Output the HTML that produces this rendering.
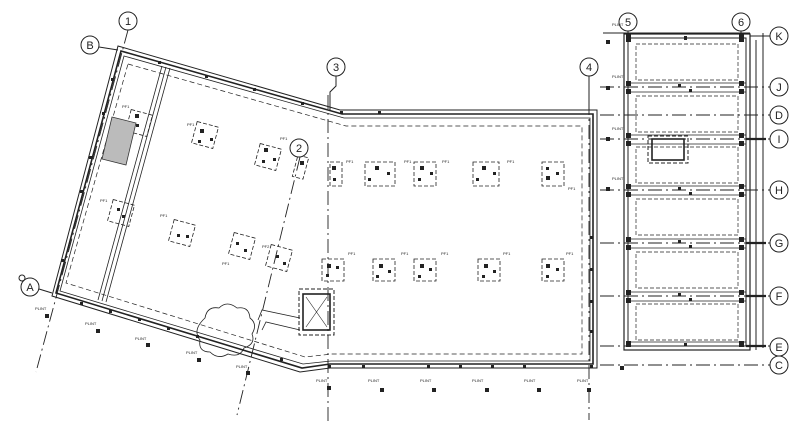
<!DOCTYPE html>
<html><head><meta charset="utf-8"><style>
html,body{margin:0;padding:0;background:#fff;}
svg{display:block;}
text{font-family:"Liberation Sans",sans-serif;fill:#222;}
</style></head><body>
<svg width="800" height="432" viewBox="0 0 800 432" xmlns="http://www.w3.org/2000/svg">
<g fill="none" stroke="#222" stroke-width="1">
<!-- grid axes -->
<g stroke-dasharray="14,4,2,4" stroke-width="0.9">
<line x1="128" y1="30" x2="36" y2="372"/>
<line x1="300" y1="157" x2="237" y2="415"/>
<line x1="328" y1="95" x2="328" y2="425"/>
<line x1="589" y1="77" x2="589" y2="420"/>
<line x1="600" y1="87" x2="770" y2="87"/>
<line x1="600" y1="115" x2="770" y2="115"/>
<line x1="600" y1="139" x2="770" y2="139"/>
<line x1="600" y1="190" x2="770" y2="190"/>
<line x1="600" y1="243" x2="770" y2="243"/>
<line x1="600" y1="296" x2="770" y2="296"/>
<line x1="600" y1="346" x2="770" y2="346"/>
<line x1="600" y1="365" x2="770" y2="365"/>
</g>
<line x1="99" y1="47" x2="118" y2="50"/>
<line x1="39" y1="289" x2="52" y2="293"/>
<path d="M336 76 V86 L330 92 V110"/>
<line x1="589" y1="76" x2="589" y2="110"/>
<line x1="628" y1="31" x2="628" y2="38"/>
<line x1="741" y1="31" x2="741" y2="38"/>
<line x1="750" y1="36" x2="770" y2="36"/>
<line x1="603" y1="33" x2="750" y2="33"/>
<!-- main building walls -->
<path d="M118 46 L340 110 H597 V368 H330 L300 372 L52 296 Z" stroke-width="1"/>
<path d="M121 51 L342 114 H593 V364 H330 L302 368 L56 293 Z" stroke-width="1.6"/>
<path d="M124 56 L344 118 H590 V361 H331 L303 364 L60 291 Z" stroke-width="0.8"/>
<path d="M128 64 L346 126 H582 V354 H332 L305 357 L66 283 Z" stroke-dasharray="5,3" stroke-width="0.7"/>
<!-- inner partition -->
<path d="M162 66 L98 300 M166 67 L102 301 M170 68 L106 302" stroke-width="0.8"/>
<!-- pads -->
<g stroke-dasharray="4,2" stroke-width="0.8">
<rect x="128" y="112" width="22" height="22" transform="rotate(15 139 123)"/>
<rect x="194" y="124" width="22" height="22" transform="rotate(15 205 135)"/>
<rect x="257" y="146" width="22" height="22" transform="rotate(15 268 157)"/>
<rect x="295" y="156" width="11" height="22" transform="rotate(15 300 167)"/>
<rect x="110" y="202" width="22" height="22" transform="rotate(15 121 213)"/>
<rect x="171" y="222" width="22" height="22" transform="rotate(15 182 233)"/>
<rect x="231" y="235" width="22" height="22" transform="rotate(15 242 246)"/>
<rect x="268" y="247" width="22" height="22" transform="rotate(15 279 258)"/>
<rect x="330" y="162" width="12" height="24"/>
<rect x="365" y="162" width="30" height="24"/>
<rect x="414" y="162" width="22" height="24"/>
<rect x="473" y="162" width="26" height="24"/>
<rect x="542" y="162" width="22" height="24"/>
<rect x="322" y="259" width="22" height="22"/>
<rect x="373" y="259" width="22" height="22"/>
<rect x="414" y="259" width="22" height="22"/>
<rect x="478" y="259" width="22" height="22"/>
<rect x="542" y="259" width="22" height="22"/>
</g>
<!-- elevator -->
<rect x="299" y="289" width="35" height="46" stroke-dasharray="4,2"/>
<rect x="303" y="294" width="27" height="36" stroke-width="1.6"/>
<path d="M306 297 L327 327 M327 297 L306 327" stroke-width="0.6"/>
<path d="M258 320 L262 310 L300 318 M262 330 L266 322 L300 330" stroke-width="0.8"/>
<!-- cloud -->
<path d="M205 318 q2 -12 14 -10 q8 -8 18 0 q12 -2 13 10 q8 6 2 16 q4 10 -8 14 q-4 10 -16 6 q-10 6 -18 -2 q-12 0 -10 -12 q-8 -10 5 -22 z" stroke-width="0.8"/>
<!-- right building -->
<rect x="624" y="34" width="126" height="316" stroke-width="1.2"/>
<rect x="628" y="38" width="118" height="308"/>
<line x1="756" y1="40" x2="756" y2="350"/>
<line x1="763" y1="33" x2="763" y2="348"/>
<g stroke-dasharray="4,2" stroke-width="0.7">
<rect x="636" y="44" width="102" height="36"/>
<rect x="636" y="96" width="102" height="36"/>
<rect x="636" y="147" width="102" height="36"/>
<rect x="636" y="199" width="102" height="36"/>
<rect x="636" y="252" width="102" height="36"/>
<rect x="636" y="304" width="102" height="36"/>
</g>
<g stroke-width="0.8">
<path d="M628 83 H746 M628 92 H746 M628 135 H746 M628 144 H746 M628 186 H746 M628 195 H746 M628 239 H746 M628 248 H746 M628 292 H746 M628 301 H746 M628 342 H746"/>
</g>
<rect x="648" y="136" width="40" height="27" stroke-dasharray="4,2"/>
<rect x="652" y="139" width="32" height="21" stroke-width="1.6"/>
<path d="M746 243 H766 M746 296 H766 M746 346 H766 M746 139 H766" stroke-width="2.2"/>
<!-- bubbles -->
<g fill="#fff">
<circle cx="128" cy="21" r="9"/><circle cx="299" cy="148" r="9"/><circle cx="336" cy="67" r="9"/><circle cx="589" cy="67" r="9"/>
<circle cx="628" cy="22" r="9"/><circle cx="741" cy="22" r="9"/><circle cx="30" cy="287" r="9"/><circle cx="90" cy="45" r="9"/>
<circle cx="779" cy="36" r="9"/><circle cx="779" cy="87" r="9"/><circle cx="779" cy="115" r="9"/><circle cx="779" cy="139" r="9"/>
<circle cx="779" cy="190" r="9"/><circle cx="779" cy="243" r="9"/><circle cx="779" cy="296" r="9"/><circle cx="779" cy="347" r="9"/><circle cx="779" cy="365" r="9"/>
<circle cx="22" cy="278" r="3"/>
</g>
</g>
<polygon points="112,117 136,123 126,165 102,159" fill="#bbb" stroke="#333" stroke-width="0.8"/>
<!-- columns / anchor dots -->
<g fill="#222">
<rect x="626" y="34" width="5" height="8"/><rect x="739" y="34" width="5" height="8"/>
<rect x="626" y="81" width="5" height="5"/><rect x="626" y="89" width="5" height="5"/><rect x="739" y="81" width="5" height="5"/><rect x="739" y="89" width="5" height="5"/>
<rect x="626" y="133" width="5" height="5"/><rect x="626" y="141" width="5" height="5"/><rect x="739" y="133" width="5" height="5"/><rect x="739" y="141" width="5" height="5"/>
<rect x="626" y="184" width="5" height="5"/><rect x="626" y="192" width="5" height="5"/><rect x="739" y="184" width="5" height="5"/><rect x="739" y="192" width="5" height="5"/>
<rect x="626" y="237" width="5" height="5"/><rect x="626" y="245" width="5" height="5"/><rect x="739" y="237" width="5" height="5"/><rect x="739" y="245" width="5" height="5"/>
<rect x="626" y="290" width="5" height="5"/><rect x="626" y="298" width="5" height="5"/><rect x="739" y="290" width="5" height="5"/><rect x="739" y="298" width="5" height="5"/>
<rect x="626" y="341" width="5" height="6"/><rect x="739" y="341" width="5" height="6"/>
<rect x="684" y="36" width="3" height="4"/><rect x="678" y="84" width="3" height="3"/><rect x="689" y="89" width="3" height="3"/><rect x="678" y="187" width="3" height="3"/><rect x="689" y="192" width="3" height="3"/>
<rect x="678" y="240" width="3" height="3"/><rect x="689" y="245" width="3" height="3"/><rect x="678" y="293" width="3" height="3"/><rect x="689" y="298" width="3" height="3"/><rect x="684" y="343" width="3" height="3"/>
<rect x="620" y="366" width="4" height="4"/>
<rect x="135" y="114" width="4" height="4"/><rect x="200" y="129" width="4" height="4"/><rect x="264" y="148" width="4" height="4"/><rect x="300" y="161" width="4" height="4"/>
<rect x="210" y="138" width="3" height="3"/><rect x="198" y="140" width="3" height="3"/><rect x="273" y="158" width="3" height="3"/><rect x="262" y="160" width="3" height="3"/>
<rect x="177" y="234" width="3" height="3"/><rect x="186" y="235" width="3" height="3"/><rect x="236" y="242" width="3" height="3"/><rect x="244" y="249" width="3" height="3"/><rect x="276" y="255" width="3" height="3"/><rect x="283" y="262" width="3" height="3"/>
<rect x="117" y="208" width="3" height="3"/><rect x="122" y="215" width="3" height="3"/><rect x="136" y="124" width="3" height="3"/>
<rect x="332" y="166" width="4" height="4"/><rect x="375" y="166" width="4" height="4"/><rect x="420" y="166" width="4" height="4"/><rect x="482" y="166" width="4" height="4"/><rect x="546" y="176" width="4" height="4"/>
<rect x="333" y="178" width="3" height="3"/><rect x="368" y="178" width="3" height="3"/><rect x="387" y="172" width="3" height="3"/><rect x="418" y="178" width="3" height="3"/><rect x="430" y="172" width="3" height="3"/><rect x="476" y="178" width="3" height="3"/><rect x="493" y="172" width="3" height="3"/><rect x="546" y="167" width="3" height="3"/><rect x="556" y="172" width="3" height="3"/>
<rect x="327" y="264" width="4" height="4"/><rect x="379" y="264" width="4" height="4"/><rect x="420" y="264" width="4" height="4"/><rect x="484" y="264" width="4" height="4"/><rect x="546" y="264" width="4" height="4"/>
<rect x="336" y="266" width="3" height="3"/><rect x="326" y="274" width="3" height="3"/><rect x="388" y="270" width="3" height="3"/><rect x="376" y="275" width="3" height="3"/><rect x="429" y="268" width="3" height="3"/><rect x="418" y="275" width="3" height="3"/><rect x="493" y="270" width="3" height="3"/><rect x="482" y="275" width="3" height="3"/><rect x="556" y="268" width="3" height="3"/><rect x="546" y="275" width="3" height="3"/>
<rect x="158" y="61" width="3" height="3"/><rect x="205" y="75" width="3" height="3"/><rect x="253" y="88" width="3" height="3"/><rect x="301" y="102" width="3" height="3"/><rect x="340" y="111" width="3" height="3"/><rect x="378" y="111" width="3" height="3"/>
<rect x="111" y="78" width="3" height="3"/><rect x="102" y="112" width="3" height="3"/><rect x="89" y="156" width="3" height="3"/><rect x="80" y="190" width="3" height="3"/><rect x="61" y="259" width="3" height="3"/>
<rect x="80" y="302" width="3" height="3"/><rect x="109" y="310" width="3" height="3"/><rect x="138" y="318" width="3" height="3"/><rect x="167" y="327" width="3" height="3"/><rect x="196" y="335" width="3" height="3"/><rect x="280" y="358" width="3" height="3"/>
<rect x="328" y="365" width="3" height="3"/><rect x="362" y="365" width="3" height="3"/><rect x="427" y="365" width="3" height="3"/><rect x="459" y="365" width="3" height="3"/><rect x="491" y="365" width="3" height="3"/><rect x="523" y="365" width="3" height="3"/><rect x="590" y="365" width="3" height="3"/>
<rect x="590" y="236" width="3" height="3"/><rect x="590" y="268" width="3" height="3"/><rect x="590" y="300" width="3" height="3"/><rect x="590" y="330" width="3" height="3"/>
<rect x="45" y="314" width="4" height="4"/><rect x="96" y="329" width="4" height="4"/><rect x="146" y="343" width="4" height="4"/><rect x="197" y="358" width="4" height="4"/><rect x="246" y="371" width="4" height="4"/>
<rect x="327" y="386" width="4" height="4"/><rect x="380" y="388" width="4" height="4"/><rect x="432" y="388" width="4" height="4"/><rect x="485" y="388" width="4" height="4"/><rect x="537" y="388" width="4" height="4"/><rect x="587" y="388" width="4" height="4"/>
<rect x="606" y="40" width="4" height="4"/><rect x="606" y="86" width="4" height="4"/><rect x="606" y="137" width="4" height="4"/><rect x="606" y="187" width="4" height="4"/>
</g>
<g font-size="11" text-anchor="middle">
<text x="128" y="25">1</text><text x="299" y="152">2</text><text x="336" y="71">3</text><text x="589" y="71">4</text>
<text x="628" y="26">5</text><text x="741" y="26">6</text><text x="30" y="291">A</text><text x="90" y="49">B</text>
<text x="779" y="40">K</text><text x="779" y="91">J</text><text x="779" y="119">D</text><text x="779" y="143">I</text>
<text x="779" y="194">H</text><text x="779" y="247">G</text><text x="779" y="300">F</text><text x="779" y="351">E</text><text x="779" y="369">C</text>
</g>
<g font-size="4" fill="#444">
<text x="122" y="108">PF1</text><text x="187" y="126">PF1</text><text x="280" y="140">PF1</text><text x="100" y="202">PF1</text>
<text x="160" y="217">PF1</text><text x="222" y="265">PF1</text><text x="262" y="248">PF2</text>
<text x="346" y="163">PF1</text><text x="404" y="163">PF1</text><text x="442" y="163">PF1</text><text x="507" y="163">PF1</text><text x="568" y="190">PF1</text>
<text x="348" y="255">PF1</text><text x="401" y="255">PF1</text><text x="441" y="255">PF1</text><text x="503" y="255">PF1</text><text x="566" y="255">PF1</text>
<text x="35" y="310">PLINT</text><text x="85" y="325">PLINT</text><text x="135" y="340">PLINT</text><text x="186" y="354">PLINT</text><text x="236" y="368">PLINT</text>
<text x="316" y="382">PLINT</text><text x="368" y="382">PLINT</text><text x="420" y="382">PLINT</text><text x="472" y="382">PLINT</text><text x="524" y="382">PLINT</text><text x="577" y="382">PLINT</text>
<text x="612" y="26">PLINT</text><text x="612" y="78">PLINT</text><text x="612" y="130">PLINT</text><text x="612" y="180">PLINT</text>
</g>
</svg>
</body></html>
